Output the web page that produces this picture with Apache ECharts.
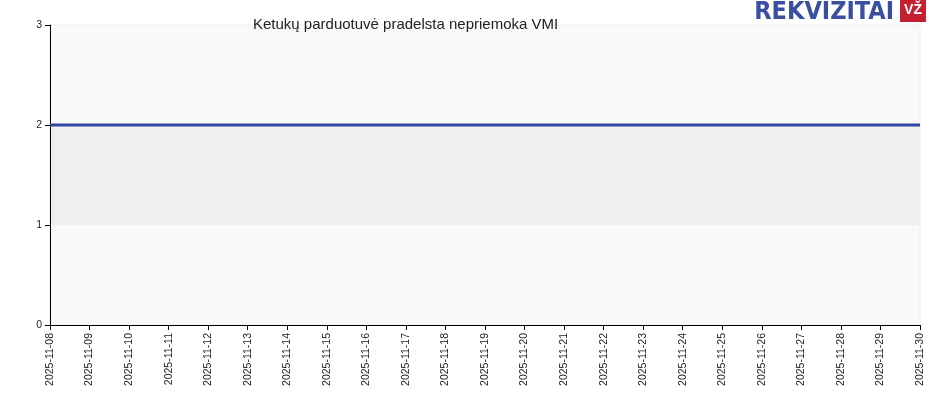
<!DOCTYPE html>
<html><head><meta charset="utf-8">
<script src="https://cdn.jsdelivr.net/npm/echarts@6/dist/echarts.min.js"></script>
<style>html,body{margin:0;padding:0;background:#fff}#c{width:930px;height:400px}</style>
</head><body><div id="c"></div>
<script>
const dates = ["2025-11-08","2025-11-09","2025-11-10","2025-11-11","2025-11-12","2025-11-13","2025-11-14","2025-11-15","2025-11-16","2025-11-17","2025-11-18","2025-11-19","2025-11-20","2025-11-21","2025-11-22","2025-11-23","2025-11-24","2025-11-25","2025-11-26","2025-11-27","2025-11-28","2025-11-29","2025-11-30"];
const values = [2,2,2,2,2,2,2,2,2,2,2,2,2,2,2,2,2,2,2,2,2,2,2];
const title = "Ketukų parduotuvė pradelsta nepriemoka VMI";
const chart = echarts.init(document.getElementById('c'));
chart.setOption({
  animation:false,
  backgroundColor:'#ffffff',
  title:{text:title,left:248,top:12,textStyle:{fontFamily:'Arial, Liberation Sans',fontSize:15,fontWeight:'normal',color:'#222'}},
  graphic:[
    {type:'text',right:36,top:0,style:{text:'REKVIZITAI',fontFamily:'Liberation Sans Narrow, Arial Narrow, DejaVu Sans Condensed',fontSize:25,fontWeight:'bold',fill:'#3a4fa0'}},
    {type:'rect',right:4,top:0,shape:{width:26,height:22},style:{fill:'#c4202f'}},
    {type:'text',right:8,top:3,style:{text:'VŽ',fontFamily:'Liberation Sans',fontSize:14,fontWeight:'bold',fill:'#fff'}}
  ],
  grid:{left:50,right:10,top:25,bottom:75,show:true,backgroundColor:'#f9f9f9',borderColor:'#eee'},
  xAxis:{type:'category',data:dates,boundaryGap:false,
    axisLine:{lineStyle:{color:'#000'}},axisTick:{alignWithLabel:true,lineStyle:{color:'#000'}},
    axisLabel:{rotate:90,fontSize:10.5,color:'#222',fontFamily:'Arial, Liberation Sans',interval:0},splitLine:{show:false}},
  yAxis:{type:'value',min:0,max:3,interval:1,
    axisLine:{show:true,lineStyle:{color:'#000'}},axisTick:{show:true,lineStyle:{color:'#000'}},
    axisLabel:{fontSize:10.5,color:'#222',fontFamily:'Arial, Liberation Sans'},splitLine:{show:false},
    splitArea:{show:true,areaStyle:{color:['rgba(0,0,0,0)','#efefef','rgba(0,0,0,0)']}}},
  series:[{type:'line',data:values,symbol:'none',lineStyle:{color:'#2f47a0',width:3}}]
});
</script></body></html>
